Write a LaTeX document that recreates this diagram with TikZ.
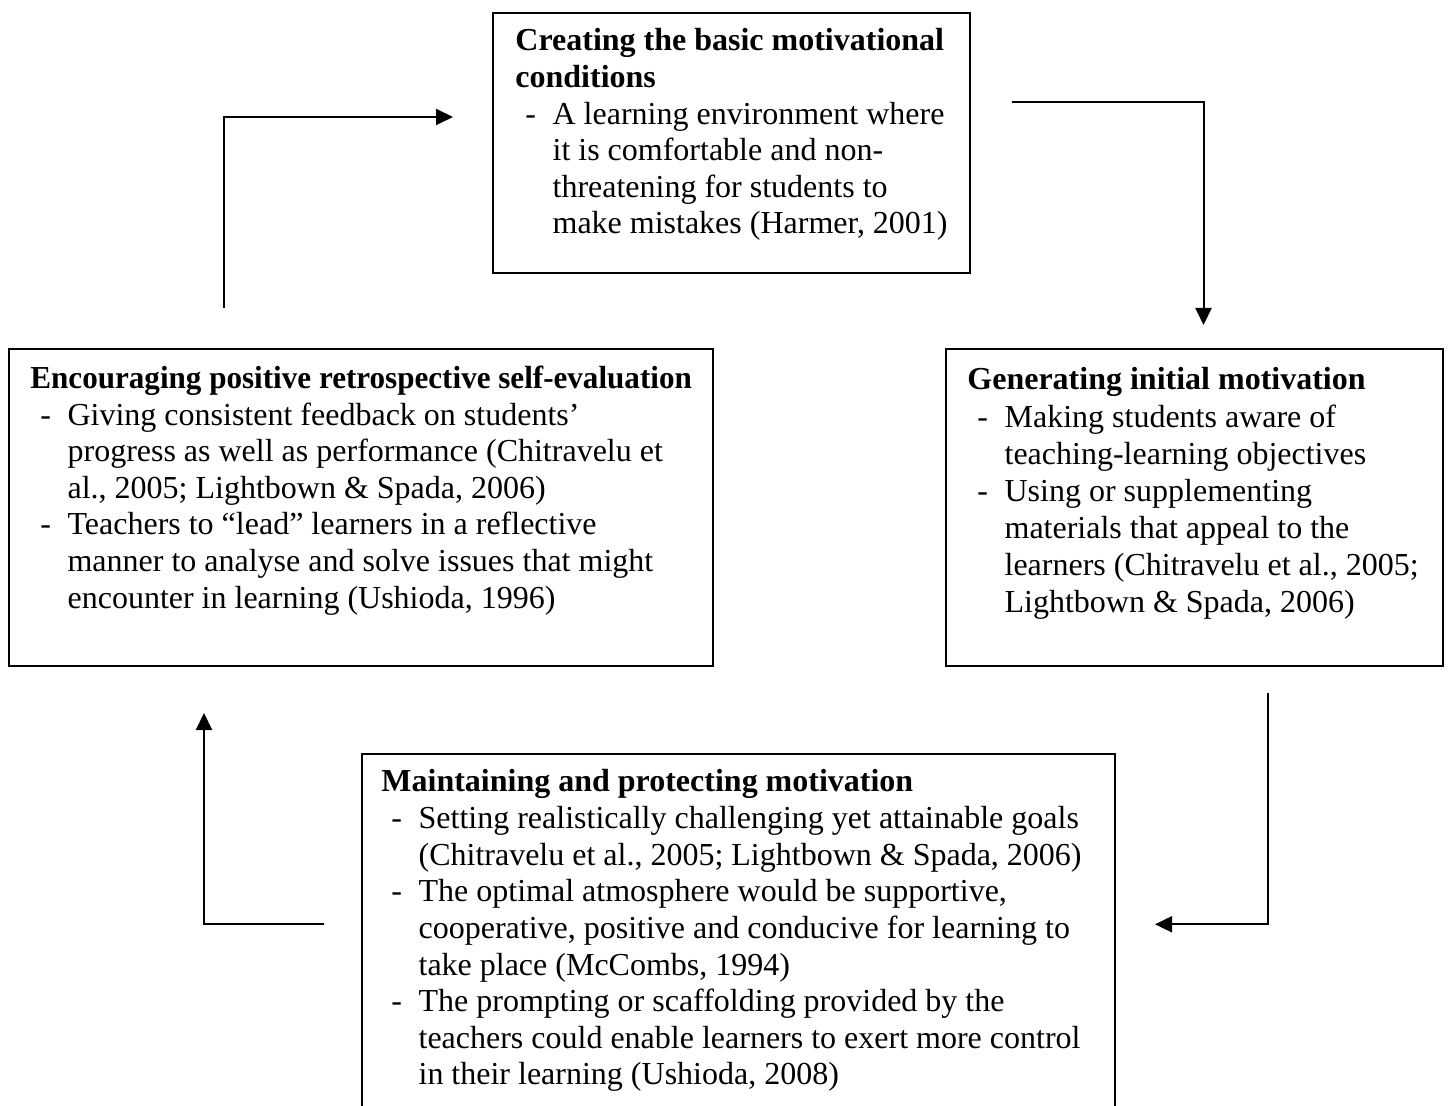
\documentclass[tikz,border=0pt]{standalone}
\usepackage{fontspec}
\usepackage{graphicx}
\setmainfont{Liberation Serif}
\usetikzlibrary{arrows.meta}
\newcommand\hd[1]{\textbf{#1}}
\newcommand\di[1]{\hspace*{5pt}\makebox[13.6pt][l]{-}#1}
\newcommand\ct[1]{\hspace*{18.6pt}#1}
\newcommand\boxtext[2]{\parbox[t]{420pt}{\raggedright\fontsize{16pt}{#1}\selectfont #2}}
\tikzset{
  stagebox/.style={draw, line width=1pt, inner sep=0pt, anchor=north west},
  stagetext/.style={inner sep=0pt, anchor=base west},
  flow/.style={line width=1pt, -{Triangle[length=8.5pt,width=8pt]}},
}
\begin{document}
\begin{tikzpicture}[x=0.5pt,y=-0.5pt]
\useasboundingbox (0,0) rectangle (1449,1106);
\clip (0,0) rectangle (1449,1106);
% boxes
\node[stagebox, minimum width=238.5pt, minimum height=130pt] (top) at (492,12) {};
\node[stagebox, minimum width=352pt, minimum height=158pt] (left) at (8,348.5) {};
\node[stagebox, minimum width=248.5pt, minimum height=158pt] (right) at (945,348.5) {};
\node[stagebox, minimum width=376.5pt, minimum height=190pt] (bottom) at (361,752.5) {};
% texts
\node[stagetext] (toptext) at (515,51) {\boxtext{18.3pt}{%
\hd{Creating the basic motivational}\\
\hd{conditions}\\
\di{A learning environment where}\\
\ct{it is comfortable and non-}\\
\ct{threatening for students to}\\
\ct{make mistakes (Harmer, 2001)}}};
\node[stagetext] (lefttext) at (30,388.5) {\boxtext{18.3pt}{%
\scalebox{0.972}[1]{\hd{Encouraging positive retrospective self-evaluation}}\\
\di{Giving consistent feedback on students’}\\
\ct{progress as well as performance (Chitravelu et}\\
\ct{al., 2005; Lightbown \& Spada, 2006)}\\
\di{Teachers to “lead” learners in a reflective}\\
\ct{manner to analyse and solve issues that might}\\
\ct{encounter in learning (Ushioda, 1996)}}};
\node[stagetext] (righttext) at (967,390) {\boxtext{18.55pt}{%
\hd{Generating initial motivation}\\
\di{Making students aware of}\\
\ct{teaching-learning objectives}\\
\di{Using or supplementing}\\
\ct{materials that appeal to the}\\
\ct{learners (Chitravelu et al., 2005;}\\
\ct{Lightbown \& Spada, 2006)}}};
\node[stagetext] (bottomtext) at (381,791.7) {\boxtext{18.33pt}{%
\hd{Maintaining and protecting motivation}\\
\di{Setting realistically challenging yet attainable goals}\\
\ct{(Chitravelu et al., 2005; Lightbown \& Spada, 2006)}\\
\di{The optimal atmosphere would be supportive,}\\
\ct{cooperative, positive and conducive for learning to}\\
\ct{take place (McCombs, 1994)}\\
\di{The prompting or scaffolding provided by the}\\
\ct{teachers could enable learners to exert more control}\\
\ct{in their learning (Ushioda, 2008)}}};
% connector end points
\coordinate (a1s) at (1012,102.3);
\coordinate (a1e) at (1203.5,325);
\coordinate (a2s) at (1268.3,693);
\coordinate (a2e) at (1155,924.3);
\coordinate (a3s) at (324,924.3);
\coordinate (a3e) at (204,713);
\coordinate (a4s) at (224,308);
\coordinate (a4e) at (453,117);
% connectors
\draw[flow] (a1s) -| (a1e);
\draw[flow] (a2s) |- (a2e);
\draw[flow] (a3s) -| (a3e);
\draw[flow] (a4s) |- (a4e);
\end{tikzpicture}
\end{document}
